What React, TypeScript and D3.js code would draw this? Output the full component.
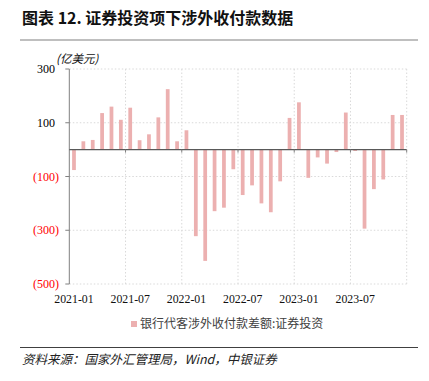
import React from "react";
import * as d3 from "d3";

const months: string[] = [
  "2021-01","2021-02","2021-03","2021-04","2021-05","2021-06","2021-07","2021-08","2021-09","2021-10","2021-11","2021-12",
  "2022-01","2022-02","2022-03","2022-04","2022-05","2022-06","2022-07","2022-08","2022-09","2022-10","2022-11","2022-12",
  "2023-01","2023-02","2023-03","2023-04","2023-05","2023-06","2023-07","2023-08","2023-09","2023-10","2023-11","2023-12",
];
const values: number[] = [
  -76, 31, 36, 136, 160, 111, 156, 35, 57, 120, 225, 31,
  72, -322, -414, -229, -216, -73, -169, -133, -200, -233, -118, 118,
  176, -105, -29, -52, -9, 138, -5, -294, -147, -111, 129, 129,
];
const yTicks: number[] = [-500, -300, -100, 100, 300];
const xLabels: string[] = ["2021-01", "2021-07", "2022-01", "2022-07", "2023-01", "2023-07"];
const title = "图表 12. 证券投资项下涉外收付款数据";
const unitLabel = "(亿美元)";
const legendLabel = "银行代客涉外收付款差额:证券投资";
const sourceText = "资料来源：国家外汇管理局，Wind，中银证券";

export default function App() {
  const W = 429, H = 381;
  const left = 69.3, right = 406.7, top = 69, bottom = 284;
  const x = d3.scaleBand<string>().domain(months).range([left, right]).padding(0);
  const y = d3.scaleLinear().domain([-500, 300]).range([bottom, top]);
  const bw = x.bandwidth() * 0.4;
  const serif = "'Liberation Serif', 'Times New Roman', serif";
  const cjk = "'Noto Sans CJK SC', sans-serif";
  const barColor = "#ECB0B0";
  const boundaries = xLabels.slice(1).map((m) => x(m)!).concat([right]);

  return (
    <svg width={W} height={H} style={{ position: "absolute", left: 0, top: 0, background: "#fff" }}>
      <text x={22} y={24} fontFamily={cjk} fontWeight="bold" fontSize={16} fill="#111">{title}</text>
      <line x1={20} x2={418} y1={40} y2={40} stroke="#808080" strokeWidth={1.2} />

      {/* gridlines */}
      {yTicks.map((t) => (
        <line key={"gy" + t} x1={left} x2={right} y1={y(t)} y2={y(t)} stroke="#D9D9D9" strokeDasharray="1.5,2" strokeWidth={1} />
      ))}
      {boundaries.map((bx, i) => (
        <line key={"gx" + i} x1={bx} x2={bx} y1={top} y2={bottom} stroke="#D9D9D9" strokeDasharray="1.5,2" strokeWidth={1} />
      ))}

      {/* bars */}
      {months.map((m, i) => {
        const v = values[i];
        const cx = x(m)! + x.bandwidth() / 2;
        return (
          <rect key={m} x={cx - bw / 2} width={bw} y={Math.min(y(v), y(0))} height={Math.abs(y(v) - y(0))} fill={barColor} />
        );
      })}

      {/* y axis */}
      <line x1={left} x2={left} y1={top} y2={bottom} stroke="#808080" strokeWidth={1} />
      {yTicks.map((t) => (
        <g key={"yt" + t}>
          <line x1={left - 4} x2={left} y1={y(t)} y2={y(t)} stroke="#808080" strokeWidth={1} />
          <text x={t < 0 ? 59 : 55} y={y(t) + 4} textAnchor="end" fontFamily={serif} fontSize={12} fill={t < 0 ? "#FF0000" : "#000"}>
            {t < 0 ? `(${Math.abs(t)})` : `${t}`}
          </text>
        </g>
      ))}
      <text x={56} y={63} fontFamily={cjk} fontSize={11.5} fill="#111" fontStyle="italic">{unitLabel}</text>

      {/* zero axis */}
      <line x1={left} x2={right} y1={y(0)} y2={y(0)} stroke="#595959" strokeWidth={1.3} />
      {boundaries.map((bx, i) => (
        <line key={"xt" + i} x1={bx} x2={bx} y1={y(0)} y2={y(0) + 3} stroke="#808080" strokeWidth={1} />
      ))}
      {xLabels.map((m) => (
        <text key={"xl" + m} x={x(m)! + x.bandwidth() / 2} y={303} textAnchor="middle" fontFamily={serif} fontSize={11.8} fill="#111">{m}</text>
      ))}

      {/* legend */}
      <rect x={131} y={321} width={6} height={6} fill={barColor} />
      <text x={140} y={328} fontFamily={cjk} fontSize={12} fill="#404040">{legendLabel}</text>

      {/* footer */}
      <line x1={20} x2={418} y1={347.5} y2={347.5} stroke="#404040" strokeWidth={1.2} />
      <text x={22} y={364} fontFamily={cjk} fontSize={12.5} fontStyle="italic" fill="#222">{sourceText}</text>
    </svg>
  );
}
